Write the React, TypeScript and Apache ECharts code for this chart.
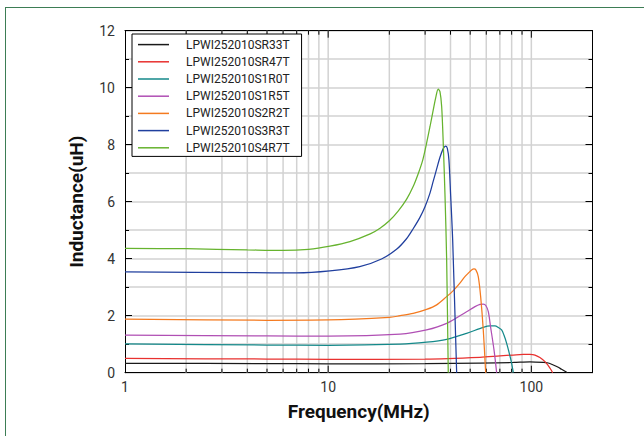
import React, { useEffect, useRef } from "react";
import * as echarts from "echarts";

const seriesNames = [
  "LPWI252010SR33T",
  "LPWI252010SR47T",
  "LPWI252010S1R0T",
  "LPWI252010S1R5T",
  "LPWI252010S2R2T",
  "LPWI252010S3R3T",
  "LPWI252010S4R7T",
];
const seriesColors = ["#1a1a1a", "#e8312f", "#14898a", "#b04fb4", "#f47a1f", "#203f9e", "#66b32e"];

const fSR33 = [1, 5, 10, 30, 55.9, 81.5, 98.4, 114.5, 121.1, 128.2, 135.7, 140.9, 146.4, 150.3];
const lSR33 = [0.33, 0.32, 0.31, 0.32, 0.34, 0.36, 0.38, 0.36, 0.34, 0.27, 0.19, 0.12, 0.05, 0];

const fSR47 = [1, 5, 10, 30, 55.9, 70.1, 81.5, 91.3, 98.4, 104.2, 110.2, 116.7, 121.1, 124.5, 127.3];
const lSR47 = [0.5, 0.48, 0.47, 0.48, 0.54, 0.59, 0.62, 0.64, 0.64, 0.62, 0.53, 0.39, 0.25, 0.12, 0];

const fS1R0 = [1, 5, 10, 22.6, 30.5, 38.3, 48, 58, 62.6, 66.2, 68.7, 71.4, 73.3, 75.6, 77.9, 80, 81.5];
const lS1R0 = [1.01, 0.97, 0.96, 1.0, 1.07, 1.17, 1.38, 1.59, 1.64, 1.64, 1.59, 1.5, 1.32, 1.03, 0.68, 0.33, 0];

const fS1R5 = [1, 5, 10, 22.6, 30.5, 38.3, 48, 52.8, 55.9, 58, 59.8, 61.4, 63, 65.5, 67.5];
const lS1R5 = [1.32, 1.29, 1.28, 1.35, 1.5, 1.73, 2.14, 2.32, 2.4, 2.41, 2.35, 2.14, 1.61, 0.8, 0];

const fS2R2 = [1, 5, 10, 20, 22.6, 26.2, 30.5, 34.2, 38.3, 41.3, 44.5, 47.1, 48.9, 50.8, 52.2, 53.4, 54.8, 56.3, 58, 59.6];
const lS2R2 = [1.88, 1.84, 1.85, 1.94, 2.0, 2.08, 2.22, 2.38, 2.67, 2.88, 3.14, 3.37, 3.49, 3.6, 3.64, 3.6, 3.37, 2.67, 1.5, 0];

const fS3R3 = [1, 4, 7, 10.2, 14.3, 18.3, 21.7, 24.3, 26.2, 28.3, 30, 31.7, 32.9, 34.2, 35.5, 36.9, 37.9, 38.6, 39.3, 40.1, 41, 42.9];
const lS3R3 = [3.54, 3.51, 3.5, 3.57, 3.72, 3.99, 4.33, 4.7, 5.05, 5.45, 5.83, 6.3, 6.72, 7.15, 7.56, 7.87, 7.95, 7.87, 7.46, 6.18, 4.66, 0];

const fS4R7 = [1, 2, 4, 6, 8, 10.2, 12.8, 16.1, 18, 20, 22.1, 24.3, 26.2, 27.8, 29.2, 30.5, 31.7, 32.9, 33.9, 34.8, 35.5, 36.2, 36.9, 37.6, 38.3, 39];
const lS4R7 = [4.36, 4.35, 4.31, 4.29, 4.33, 4.44, 4.6, 4.87, 5.07, 5.33, 5.67, 6.08, 6.53, 7.0, 7.46, 8.05, 8.63, 9.22, 9.68, 9.95, 9.86, 9.33, 7.93, 6.18, 3.95, 0];

const freqLists = [fSR33, fSR47, fS1R0, fS1R5, fS2R2, fS3R3, fS4R7];
const valueLists = [lSR33, lSR47, lS1R0, lS1R5, lS2R2, lS3R3, lS4R7];

const xGridFreqs = [2, 3, 4, 5, 6, 7, 8, 9, 10, 20, 30, 40, 50, 60, 70, 80, 90, 100];
const xMajorFreqs = [1, 10, 100];
const xMin = 1;
const xMax = 200;
const yMin = 0;
const yMax = 12;
const yInterval = 2;

const FONT = "Roboto, 'DejaVu Sans', sans-serif";

export default function App() {
  const ref = useRef<HTMLDivElement>(null);
  useEffect(() => {
    document.body.style.margin = "0";
    const chart = echarts.init(ref.current!, null, { renderer: "svg" });
    const lineSeries = seriesNames.map((name, i) => ({
      name,
      type: "line",
      data: freqLists[i].map((f, j) => [f, valueLists[i][j]]),
      smooth: 0.3,
      symbol: "none",
      showSymbol: false,
      lineStyle: { color: seriesColors[i], width: 1.25 },
      itemStyle: { color: seriesColors[i] },
      z: 3,
    }));
    const gridSeries = {
      type: "custom",
      silent: true,
      z: 1,
      data: xGridFreqs.map((f) => [f, 0]),
      renderItem: (params: any, api: any) => {
        const f = api.value(0);
        const x = api.coord([f, 0])[0];
        const cs = params.coordSys;
        const top = cs.y;
        const bottom = cs.y + cs.height;
        const len = xMajorFreqs.indexOf(Math.round(f)) >= 0 ? 7 : 4;
        return {
          type: "group",
          children: [
            { type: "line", shape: { x1: x, y1: top, x2: x, y2: bottom }, style: { stroke: "#d2d2d2", lineWidth: 1.5 } },
            { type: "line", shape: { x1: x, y1: bottom, x2: x, y2: bottom - len }, style: { stroke: "#000", lineWidth: 1 } },
            { type: "line", shape: { x1: x, y1: top, x2: x, y2: top + len }, style: { stroke: "#000", lineWidth: 1 } },
          ],
        };
      },
    };
    const yCommon = {
      type: "value",
      min: yMin,
      max: yMax,
      interval: yInterval,
      axisLine: { show: true, lineStyle: { color: "#000", width: 1 } },
      axisTick: { show: true, inside: true, length: 7, lineStyle: { color: "#000" } },
      minorTick: { show: true, splitNumber: 2, length: 4, lineStyle: { color: "#000" } },
    };
    chart.setOption({
      animation: false,
      backgroundColor: "#fff",
      grid: { left: 125, right: 51.5, top: 30.7, bottom: 63.3, containLabel: false },
      legend: {
        data: seriesNames,
        orient: "vertical",
        left: 132,
        top: 34,
        icon: "rect",
        backgroundColor: "#fff",
        borderColor: "#000",
        borderWidth: 1,
        borderRadius: 0,
        padding: [2, 12, 0, 6],
        itemWidth: 31,
        itemHeight: 1.5,
        itemGap: 0,
        selectedMode: false,
        textStyle: { fontFamily: FONT, fontSize: 12, lineHeight: 17.2, color: "#222", padding: [0, 0, 0, 12] },
      },
      xAxis: [
        {
          type: "log",
          logBase: 10,
          min: xMin,
          max: xMax,
          name: "Frequency(MHz)",
          nameLocation: "middle",
          nameGap: 29,
          nameTextStyle: { fontFamily: FONT, fontWeight: "bold", fontSize: 19, color: "#111" },
          axisLine: { show: true, lineStyle: { color: "#000", width: 1 } },
          axisTick: { show: false },
          splitLine: { show: false },
          axisLabel: {
            margin: 7,
            fontFamily: FONT,
            fontSize: 14,
            color: "#333",
            formatter: (v: number) => (xMajorFreqs.indexOf(Math.round(v)) >= 0 ? String(Math.round(v)) : ""),
          },
        },
        {
          type: "log",
          logBase: 10,
          min: xMin,
          max: xMax,
          position: "top",
          axisLine: { show: true, onZero: false, lineStyle: { color: "#000", width: 1 } },
          axisTick: { show: false },
          axisLabel: { show: false },
          splitLine: { show: false },
        },
      ],
      yAxis: [
        {
          ...yCommon,
          position: "left",
          name: "Inductance(uH)",
          nameLocation: "middle",
          nameGap: 39,
          nameTextStyle: { fontFamily: FONT, fontWeight: "bold", fontSize: 19, color: "#111" },
          axisLabel: { margin: 10, fontFamily: FONT, fontSize: 14, color: "#333" },
          splitLine: { show: true, lineStyle: { color: "#d2d2d2", width: 1.5 } },
          minorSplitLine: { show: true, lineStyle: { color: "#d2d2d2", width: 1.5 } },
        },
        {
          ...yCommon,
          position: "right",
          axisLabel: { show: false },
          splitLine: { show: false },
        },
      ],
      graphic: [
        { type: "line", shape: { x1: 5, y1: 7.5, x2: 644, y2: 7.5 }, style: { stroke: "#3d7d55", lineWidth: 1 } },
        { type: "line", shape: { x1: 5.5, y1: 7, x2: 5.5, y2: 436 }, style: { stroke: "#3d7d55", lineWidth: 1 } },
      ],
      series: [gridSeries, ...lineSeries],
    } as any);
    return () => chart.dispose();
  }, []);
  return <div ref={ref} style={{ width: 644, height: 436 }} />;
}
